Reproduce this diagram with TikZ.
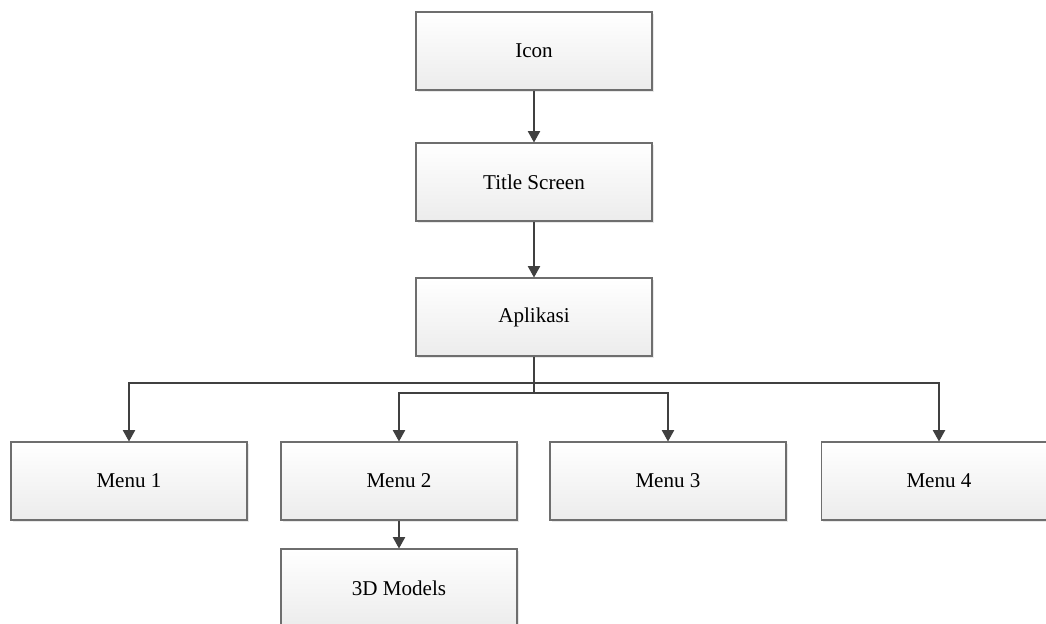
\documentclass[tikz,border=0pt]{standalone}
\usepackage{fontspec}
\setmainfont{Liberation Serif}
\usepackage{tikz}
\usetikzlibrary{arrows.meta,positioning,shadows}
\usepackage{xcolor}
\definecolor{boxedge}{RGB}{110,110,110}
\definecolor{boxlow}{RGB}{236,236,236}
\definecolor{linkgrey}{RGB}{64,64,64}

\begin{document}
\begin{tikzpicture}[x=0.02cm, y=-0.02cm,
    screenbox/.style={rectangle, draw=boxedge, line width=0.6pt,
        top color=white, bottom color=boxlow,
        minimum width=4.72cm, minimum height=1.56cm, inner sep=0pt,
        font=\fontsize{12}{14}\selectfont,
        drop shadow={opacity=0.18, shadow xshift=1.2pt, shadow yshift=-1.2pt}},
    link/.style={draw=linkgrey, line width=0.85pt},
    >={Triangle[length=6.5pt, width=7pt]},
]
    \useasboundingbox (0,0) rectangle (1046,623);

    % main chain
    \node[screenbox] (icon)  at (534, 51)  {Icon};
    \node[screenbox] (title) at (534,182)  {Title Screen};
    \node[screenbox] (apl)   at (534,317)  {Aplikasi};

    % menus
    \node[screenbox] (m1) at (129,481) {Menu 1};
    \node[screenbox] (m2) at (399,481) {Menu 2};
    \node[screenbox] (m3) at (668,481) {Menu 3};
    \node[screenbox] (m4) at (939,481) {Menu 4};
    \node[screenbox] (models) at (399,588) {3D Models};

    \coordinate (bus-out) at (534,383);
    \coordinate (bus-in)  at (534,393);

    \draw[link, ->] (icon) -- (title);
    \draw[link, ->] (title) -- (apl);
    \draw[link] (apl) -- (bus-in);
    \draw[link, ->] (bus-in) -| (m2);
    \draw[link, ->] (bus-in) -| (m3);
    \draw[link, ->] (bus-out) -| (m1);
    \draw[link, ->] (bus-out) -| (m4);
    \draw[link, ->] (m2) -- (models);
\end{tikzpicture}
\end{document}
